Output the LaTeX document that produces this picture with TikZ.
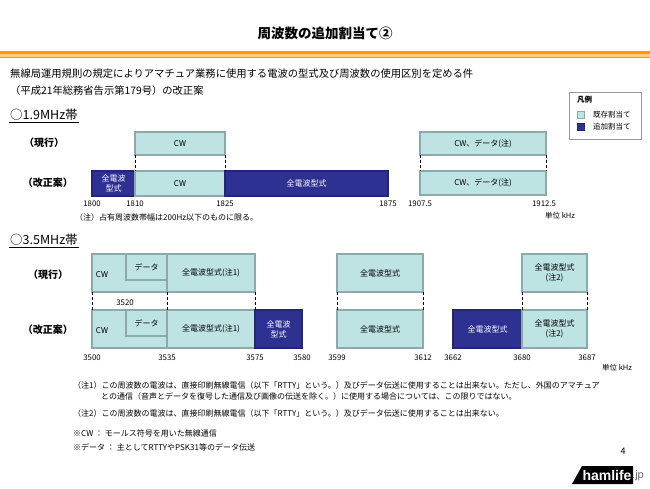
\documentclass[tikz,border=0pt]{standalone}
\usepackage{fontspec}
\setmainfont{Noto Sans CJK JP}
\newfontfamily\logofont{Liberation Sans}
\definecolor{lt}{HTML}{BEE3E3}
\definecolor{ltb}{HTML}{8DA9A9}
\definecolor{dk}{HTML}{2E3192}
\definecolor{dkb}{HTML}{22257A}
\definecolor{orng}{HTML}{FF9900}
\definecolor{orngl}{HTML}{FFCC80}
\definecolor{lgb}{HTML}{999999}
\begin{document}
\begin{tikzpicture}[x=1pt,y=-1pt,
  lbox/.style={draw=ltb, fill=lt, line width=1.3pt, inner sep=0pt, outer sep=0pt, anchor=north west, font=\fontsize{8}{10}\selectfont, align=center},
  dbox/.style={lbox, draw=dkb, fill=dk, text=white},
  dline/.style={densely dashed, line width=1pt, black},
  ticklab/.style={font=\fontsize{7.8}{9}\selectfont, inner sep=0pt},
  rowlab/.style={font=\fontsize{10}{12}\selectfont\bfseries, inner sep=0pt},
  head/.style={font=\fontsize{12.5}{14}\selectfont, inner sep=1pt, anchor=west},
  note/.style={font=\fontsize{8}{10}\selectfont, inner sep=0pt, anchor=west},
  sub/.style={font=\fontsize{10.3}{12}\selectfont, inner sep=0pt, anchor=west},
  leg/.style={font=\fontsize{7.5}{9}\selectfont, inner sep=0pt, anchor=west},
  swatch/.style={minimum width=7pt, minimum height=7pt, inner sep=0pt, line width=0.8pt}]
\useasboundingbox (0,0) rectangle (650,488);
\fill[white] (0,0) rectangle (650,488);

% title and rule
\node[font=\fontsize{13.5}{16}\selectfont\bfseries, inner sep=0pt] (title) at (325,33) {周波数の追加割当て②};
\coordinate (rl) at (0,52.5);
\coordinate (rr) at (650,52.5);
\fill[orngl] (0,54) rectangle (650,57);
\draw[orng, line width=3.2pt] (rl) -- (rr);
\draw[orng, line width=1.2pt] (0,57.3) -- (650,57.3);

% subtitle
\node[sub] (sub1) at (10,74) {無線局運用規則の規定によりアマチュア業務に使用する電波の型式及び周波数の使用区別を定める件};
\node[sub] (sub2) at (10,91) {（平成21年総務省告示第179号）の改正案};

% legend
\node[draw=lgb, line width=0.8pt, minimum width=72pt, minimum height=47pt, inner sep=0pt, anchor=north west] (legend) at (569,92) {};
\node[leg, font=\fontsize{7.5}{9}\selectfont\bfseries] (legt) at (577,100) {凡例};
\node[swatch, draw=ltb, fill=lt, anchor=north west] (sw1) at (577,111) {};
\node[swatch, draw=dkb, fill=dk, anchor=north west] (sw2) at (577,123) {};
\node[leg] (lg1) at (593,115) {既存割当て};
\node[leg] (lg2) at (593,127) {追加割当て};

% ===== 1.9 MHz =====
\node[head] (h19) at (9,115) {○1.9MHz帯};
\draw[line width=0.8pt] ([yshift=-0.5pt]h19.south west) -- ([yshift=-0.5pt]h19.south east);
\node[rowlab] (r19a) at (44,143) {（現行）};
\node[rowlab] (r19b) at (48,183) {（改正案）};

\node[lbox, minimum width=90pt, minimum height=23pt] (c19cw) at (135,132) {CW};
\node[dbox, minimum width=43pt, minimum height=25pt] (p19a) at (92,171) {全電波\\型式};
\node[lbox, minimum width=90pt, minimum height=25pt] (p19cw) at (135,171) {CW};
\node[dbox, minimum width=163pt, minimum height=25pt] (p19b) at (225,171) {全電波型式};
\node[lbox, minimum width=126pt, minimum height=23pt] (c19d) at (420,132) {CW、データ(注)};
\node[lbox, minimum width=126pt, minimum height=24pt] (p19d) at (420,171) {CW、データ(注)};
\draw[dline] (c19cw.south west) -- (p19cw.north west);
\draw[dline] (c19cw.south east) -- (p19cw.north east);
\draw[dline] (c19d.south west) -- (p19d.north west);
\draw[dline] (c19d.south east) -- (p19d.north east);

\node[ticklab] (t1800) at (92,204) {1800};
\node[ticklab] (t1810) at (135,204) {1810};
\node[ticklab] (t1825) at (225,204) {1825};
\node[ticklab] (t1875) at (388,204) {1875};
\node[ticklab] (t19075) at (420,204) {1907.5};
\node[ticklab] (t19125) at (544,204) {1912.5};
\node[note] (n19) at (75,217) {（注）占有周波数帯幅は200Hz以下のものに限る。};
\node[ticklab, font=\fontsize{7.5}{9}\selectfont] (u19) at (560,216) {単位 kHz};

% ===== 3.5 MHz =====
\node[head] (h35) at (9,240) {○3.5MHz帯};
\draw[line width=0.8pt] ([yshift=-0.5pt]h35.south west) -- ([yshift=-0.5pt]h35.south east);
\node[rowlab] (r35a) at (48,275) {（現行）};
\node[rowlab] (r35b) at (48,330) {（改正案）};

% current row
\node[lbox, minimum width=75pt, minimum height=38pt] (c35cw) at (92,254) {};
\node[lbox, minimum width=41pt, minimum height=26pt] (c35dt) at (126,254) {データ};
\node[lbox, minimum width=88pt, minimum height=38pt] (c35all) at (167,254) {全電波型式(注1)};
\node[font=\fontsize{8}{10}\selectfont, inner sep=0pt] (c35cwt) at (102,275) {CW};
\node[lbox, minimum width=86pt, minimum height=38pt] (c35b) at (337,254) {全電波型式};
\node[lbox, minimum width=65pt, minimum height=38pt] (c35d) at (522,254) {全電波型式\\(注2)};

% proposed row
\node[lbox, minimum width=75pt, minimum height=38pt] (p35cw) at (92,310) {};
\node[lbox, minimum width=41pt, minimum height=26pt] (p35dt) at (126,310) {データ};
\node[lbox, minimum width=88pt, minimum height=38pt] (p35all) at (167,310) {全電波型式(注1)};
\node[font=\fontsize{8}{10}\selectfont, inner sep=0pt] (p35cwt) at (102,331) {CW};
\node[dbox, minimum width=47pt, minimum height=38pt] (p35new) at (255,310) {全電波\\型式};
\node[lbox, minimum width=86pt, minimum height=38pt] (p35b) at (337,310) {全電波型式};
\node[dbox, minimum width=69pt, minimum height=38pt] (p35c) at (453,310) {全電波型式};
\node[lbox, minimum width=65pt, minimum height=38pt] (p35d) at (522,310) {全電波型式\\(注2)};

\draw[dline] (c35cw.south west) -- (p35cw.north west);
\draw[dline] (c35all.south west) -- (p35all.north west);
\draw[dline] (c35all.south east) -- (p35all.north east);
\draw[dline] (c35b.south west) -- (p35b.north west);
\draw[dline] (c35b.south east) -- (p35b.north east);
\draw[dline] (c35d.south west) -- (p35d.north west);
\draw[dline] (c35d.south east) -- (p35d.north east);
\node[ticklab] (t3520) at (125,303) {3520};

\node[ticklab] (t3500) at (92,358) {3500};
\node[ticklab] (t3535) at (167,358) {3535};
\node[ticklab] (t3575) at (255,358) {3575};
\node[ticklab] (t3580) at (302,358) {3580};
\node[ticklab] (t3599) at (337,358) {3599};
\node[ticklab] (t3612) at (423,358) {3612};
\node[ticklab] (t3662) at (453,358) {3662};
\node[ticklab] (t3680) at (522,358) {3680};
\node[ticklab] (t3687) at (587,358) {3687};
\node[ticklab, font=\fontsize{7.5}{9}\selectfont] (u35) at (617,368) {単位 kHz};

% notes
\node[note] (n1a) at (73,385) {（注1）この周波数の電波は、直接印刷無線電信（以下「RTTY」という。）及びデータ伝送に使用することは出来ない。ただし、外国のアマチュア};
\node[note] (n1b) at (101,396) {との通信（音声とデータを復号した通信及び画像の伝送を除く。）に使用する場合については、この限りではない。};
\node[note] (n2) at (73,413) {（注2）この周波数の電波は、直接印刷無線電信（以下「RTTY」という。）及びデータ伝送に使用することは出来ない。};
\node[note] (ncw) at (73,433) {※CW ： モールス符号を用いた無線通信};
\node[note] (ndt) at (73,447) {※データ ： 主としてRTTYやPSK31等のデータ伝送};

% page number and logo
\node[font=\fontsize{9}{10}\selectfont, inner sep=0pt] (pg) at (623,451) {4};
\fill[black] (572,484) -- (582,466) -- (633,466) -- (633,484) -- cycle;
\node[font=\logofont\fontsize{14}{15}\selectfont\bfseries, text=white, inner sep=0pt] (logo) at (607,475.5) {hamlife};
\node[font=\logofont\fontsize{11}{12}\selectfont, text=black!60, inner sep=0pt, anchor=west] (logojp) at (632,476) {.jp};
\end{tikzpicture}
\end{document}
